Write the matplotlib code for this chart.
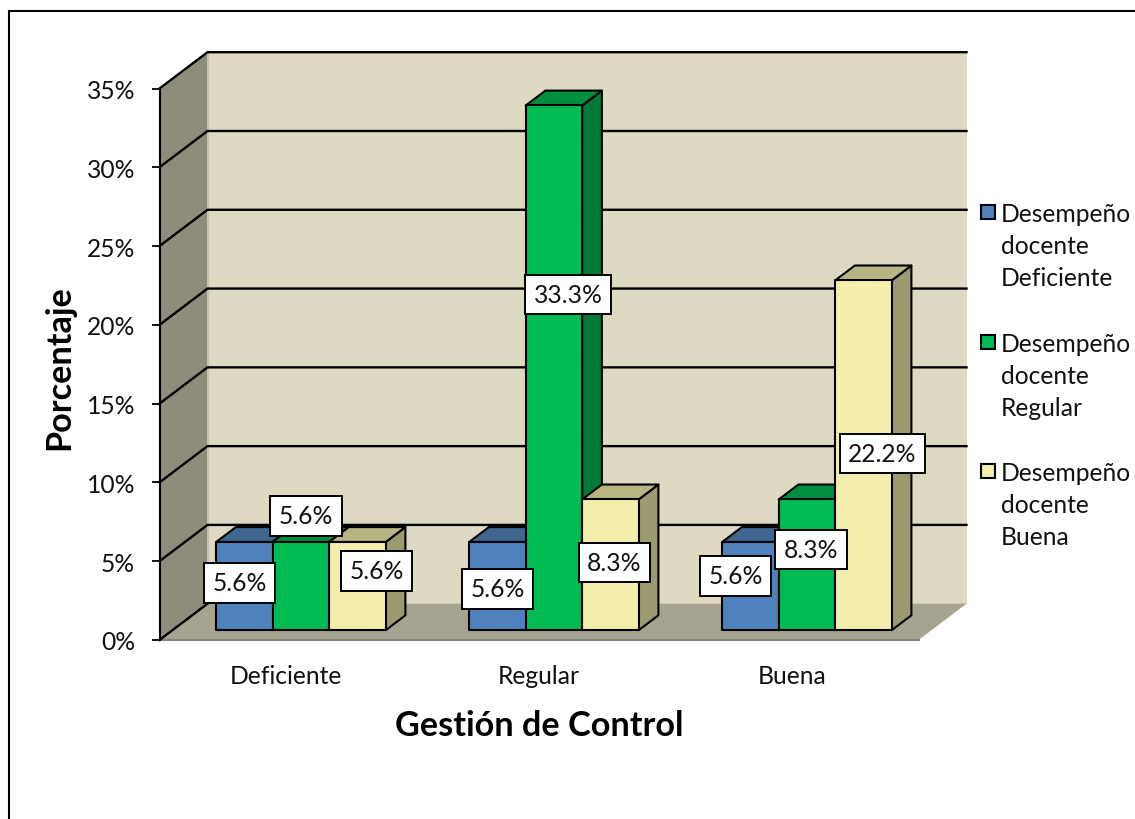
import matplotlib
matplotlib.use('Agg')
import matplotlib.pyplot as plt
from matplotlib.lines import Line2D
from matplotlib.patches import Polygon, Rectangle

# datos
categorias = ['Deficiente', 'Regular', 'Buena']
serie_deficiente = [5.6, 5.6, 5.6]
serie_regular = [5.6, 33.3, 8.3]
serie_buena = [5.6, 8.3, 22.2]
nombres = ['Desempeño\ndocente\nDeficiente', 'Desempeño\ndocente\nRegular', 'Desempeño\ndocente\nBuena']
ticks_y = [0, 5, 10, 15, 20, 25, 30, 35]

# estilo
plt.rcParams['font.family'] = ['Lato', 'DejaVu Sans']
W, H = 1135, 820
AX_L, AX_R, AX_T, AX_B = 159.5, 918.5, 89.5, 641
px_x = 3 / (AX_R - AX_L)     # unidades x por pixel
px_y = 35 / (AX_B - AX_T)    # unidades y por pixel
DX, DY = 48 * px_x, 36.3 * px_y   # profundidad total del piso
D0, D1 = 0.27, 0.68             # profundidad de las barras
ancho = 56.5 * px_x
ajuste = 2 * px_x
FS = 17.7

colores = [('#4F81BD', '#3F6591', '#3A5F8C'),
           ('#00BA54', '#008E3F', '#007A36'),
           ('#F3EEAC', '#B8B584', '#9C9A70')]
# desplazamiento de cada etiqueta desde el tope de su barra, en pixeles
offsets = [[(-5, -41), (0, -47), (-15, -34)],
           [(5, 26), (14, -189), (4, -50)],
           [(19, -29), (4, -63), (19, -173)]]

fig = plt.figure(figsize=(W / 100, H / 100), dpi=100)
ax = fig.add_axes([AX_L / W, 1 - AX_B / H, (AX_R - AX_L) / W, (AX_B - AX_T) / H])
ax.set_xlim(-0.5, 2.5)
ax.set_ylim(0, 35)
ax.patch.set_visible(False)
for s in ['top', 'right', 'bottom']:
    ax.spines[s].set_visible(False)
ax.spines['left'].set_linewidth(1.5)
ax.spines['left'].set_zorder(6)


def poly(puntos, color, z, edge='none', lw=0):
    p = Polygon(puntos, closed=True, facecolor=color, edgecolor=edge, linewidth=lw,
                clip_on=False, zorder=z, joinstyle='round')
    ax.add_patch(p)


# paredes y piso
x0, x1 = ax.get_xlim()
poly([(x0 + DX, DY), (x0 + DX, 35 + DY), (x1 + DX, 35 + DY), (x1 + DX, DY)], '#DDD9C3', 1)
poly([(x0, 0), (x0, 35), (x0 + DX, 35 + DY), (x0 + DX, DY)], '#8E8C7A', 1)
poly([(x0, 0), (x0 + DX, DY), (x1 + DX, DY), (x1, 0)], '#A6A490', 1)
ax.plot([x0, x1], [0, 0], color='#85847A', lw=1.5, clip_on=False, zorder=2)
ax.plot([x0 + DX, x0 + DX], [DY, 35 + DY], color='#C4C1AD', lw=1, clip_on=False, zorder=2)

# lineas de la grilla
for t in ticks_y[1:]:
    ax.plot([x0, x0 + DX, x1 + DX], [t, t + DY, t + DY], color='black', lw=1.7,
            clip_on=False, zorder=3, solid_joinstyle='miter')
ax.plot([x0, x0 + DX], [0, DY], color='black', lw=1.7, clip_on=False, zorder=3)

# barras
series = [serie_deficiente, serie_regular, serie_buena]
z = 4.0
for i in range(len(categorias)):
    for j, valores in enumerate(series):
        v = valores[i]
        cara, tapa, lado = colores[j]
        izq = i - 1.5 * ancho + j * ancho + D0 * DX + ajuste
        der = izq + ancho
        y_base = D0 * DY
        y_top = v + y_base
        prof_x = (D1 - D0) * DX
        prof_y = (D1 - D0) * DY
        # lado, tapa y frente
        poly([(der, y_base), (der + prof_x, y_base + prof_y), (der + prof_x, y_top + prof_y), (der, y_top)],
             lado, z, 'black', 1.5)
        poly([(izq, y_top), (izq + prof_x, y_top + prof_y), (der + prof_x, y_top + prof_y), (der, y_top)],
             tapa, z, 'black', 1.5)
        poly([(izq, y_base), (der, y_base), (der, y_top), (izq, y_top)], cara, z + 0.01, 'black', 1.5)
        z += 0.02
        ax.annotate(f'{v}%', xy=((izq + der) / 2, y_top), xycoords='data',
                    xytext=offsets[j][i], textcoords='offset pixels',
                    ha='center', va='center', fontsize=FS, color='#111111', zorder=10,
                    annotation_clip=False,
                    bbox=dict(boxstyle='square,pad=0.34', facecolor='white', edgecolor='black', linewidth=1.4))

# ejes
ax.set_yticks(ticks_y)
ax.set_yticklabels([f'{t}%' for t in ticks_y], fontsize=FS, color='#111111')
ax.tick_params(axis='y', length=5.5, width=1.3, pad=12)
ax.set_xticks(range(len(categorias)))
ax.set_xticklabels(categorias, fontsize=FS, color='#111111')
ax.tick_params(axis='x', length=0, pad=17.5)
ax.set_ylabel('Porcentaje', fontsize=24.7, fontweight='bold', labelpad=8, y=0.495)
ax.set_xlabel('Gestión de Control', fontsize=24.7, fontweight='bold', labelpad=15.5)

# leyenda
ley_y = [213, 343, 472]
for n, y, c in zip(nombres, ley_y, colores):
    fig.add_artist(Rectangle((981 / W, 1 - (y + 7) / H), 14 / W, 14 / H, transform=fig.transFigure,
                             facecolor=c[0], edgecolor='black', linewidth=1.5))
    fig.text(1001 / W, 1 - (y - 9.5) / H, n, fontsize=FS, va='top', ha='left',
             color='#111111', linespacing=1.45)

# marco exterior
fig.add_artist(Line2D([8.5 / W, 8.5 / W, 1], [0, 1 - 12 / H, 1 - 12 / H], color='black', lw=1.5,
                      transform=fig.transFigure, solid_joinstyle='miter'))

fig.savefig('out.png', dpi=100)
